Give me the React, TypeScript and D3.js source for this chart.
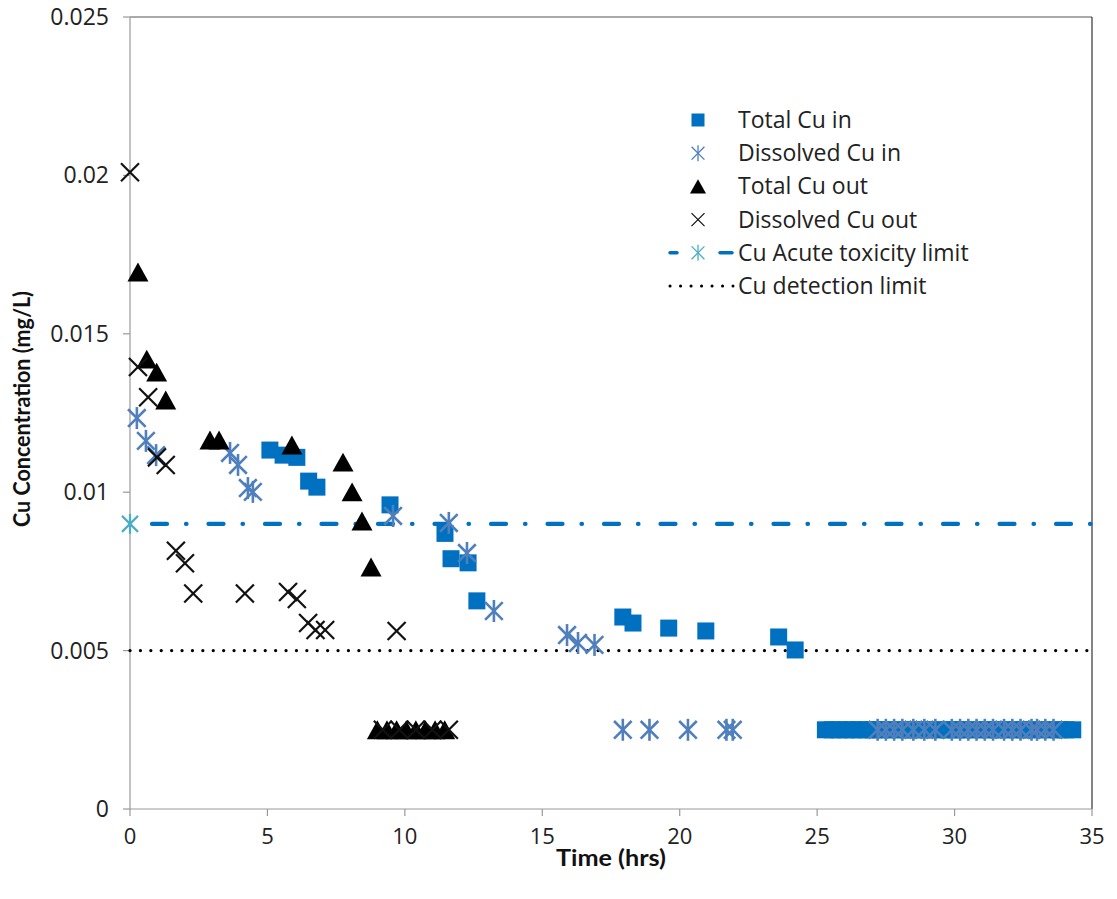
import React from "react";
import * as d3 from "d3";

// Time (hrs) and Cu concentration (mg/L) readings for each series
const totalInTime = [5.09, 5.57, 6.07, 6.5, 6.8, 9.46, 11.46, 11.68, 12.3, 12.62, 17.93, 18.3, 19.6, 20.95, 23.6, 24.2,
  25.3, 25.55, 25.8, 26.05, 26.3, 26.55, 26.8, 27.05, 27.3, 27.55, 27.8, 28.05, 28.3, 28.55, 28.8, 29.05, 29.3, 29.55,
  29.8, 30.05, 30.3, 30.55, 30.8, 31.05, 31.3, 31.55, 31.8, 32.05, 32.3, 32.55, 32.8, 33.05, 33.3, 33.55, 33.8, 34.05, 34.3];
const totalInConc = [0.01133, 0.01117, 0.0111, 0.01035, 0.01016, 0.0096, 0.0087, 0.0079, 0.00777, 0.00657, 0.00606, 0.00587, 0.00571, 0.00562, 0.00543, 0.00502,
  0.0025, 0.0025, 0.0025, 0.0025, 0.0025, 0.0025, 0.0025, 0.0025, 0.0025, 0.0025, 0.0025, 0.0025, 0.0025, 0.0025, 0.0025, 0.0025, 0.0025, 0.0025,
  0.0025, 0.0025, 0.0025, 0.0025, 0.0025, 0.0025, 0.0025, 0.0025, 0.0025, 0.0025, 0.0025, 0.0025, 0.0025, 0.0025, 0.0025, 0.0025, 0.0025, 0.0025, 0.0025];

const dissolvedInTime = [0.25, 0.58, 0.95, 3.64, 3.93, 4.29, 4.47, 9.57, 11.6, 12.26, 13.24, 15.9, 16.3, 16.9,
  17.93, 18.9, 20.3, 21.7, 21.93,
  27.2, 27.5, 27.8, 28.1, 28.5, 28.9, 29.3, 29.9, 30.2, 30.5, 30.8, 31.1, 31.4, 31.8, 32.1, 32.4, 32.8, 33.0, 33.3, 33.6];
const dissolvedInConc = [0.01234, 0.01162, 0.01117, 0.01124, 0.01086, 0.01013, 0.01001, 0.00925, 0.00903, 0.00808, 0.00625, 0.00549, 0.00524, 0.00518,
  0.0025, 0.0025, 0.0025, 0.0025, 0.0025,
  0.0025, 0.0025, 0.0025, 0.0025, 0.0025, 0.0025, 0.0025, 0.0025, 0.0025, 0.0025, 0.0025, 0.0025, 0.0025, 0.0025, 0.0025, 0.0025, 0.0025, 0.0025, 0.0025, 0.0025];

const totalOutTime = [0.29, 0.61, 0.97, 1.3, 2.91, 3.24, 5.89, 7.75, 8.08, 8.44, 8.77,
  9.0, 9.35, 9.7, 10.05, 10.4, 10.75, 11.1, 11.45];
const totalOutConc = [0.01695, 0.0142, 0.01379, 0.01291, 0.01165, 0.01165, 0.01149, 0.01095, 0.01001, 0.00909, 0.00764,
  0.0025, 0.0025, 0.0025, 0.0025, 0.0025, 0.0025, 0.0025, 0.0025];

const dissolvedOutTime = [0, 0.29, 0.66, 0.98, 1.3, 1.67, 2.0, 2.3, 4.18, 5.75, 6.07, 6.48, 6.75, 7.1, 9.7,
  9.2, 9.8, 10.4, 11.0, 11.6];
const dissolvedOutConc = [0.0201, 0.01395, 0.013, 0.0111, 0.01086, 0.00815, 0.00776, 0.0068, 0.0068, 0.00685, 0.00663, 0.00587, 0.00565, 0.00565, 0.00562,
  0.0025, 0.0025, 0.0025, 0.0025, 0.0025];

const toxicityTime = [0, 35];
const toxicityConc = [0.009, 0.009];
const detectionTime = [0, 35];
const detectionConc = [0.005, 0.005];

const xTicks = [0, 5, 10, 15, 20, 25, 30, 35];
const yTicks = [0, 0.005, 0.01, 0.015, 0.02, 0.025];
const yTickLabels = ["0", "0.005", "0.01", "0.015", "0.02", "0.025"];

const legendLabels = [
  "Total Cu in",
  "Dissolved Cu in",
  "Total Cu out",
  "Dissolved Cu out",
  "Cu Acute toxicity limit",
  "Cu detection limit",
];

const C_TOTAL_IN = "#0070c0";
const C_DISS_IN = "#4f7fbc";
const C_TOX = "#0070c0";
const C_TOX_MARK = "#4bacc6";
const FONT = "'Open Sans', Lato, sans-serif";
const TITLE_FONT = "Lato, 'Open Sans', sans-serif";

const W = 1117;
const H = 899;
const left = 130;
const right = 1092;
const top = 17;
const bottom = 809;

const zip = (xs: number[], ys: number[]) => xs.map((x, i) => ({ x, y: ys[i] }));

function Square({ cx, cy, s, fill }: { cx: number; cy: number; s: number; fill: string }) {
  return <rect x={cx - s / 2} y={cy - s / 2} width={s} height={s} fill={fill} />;
}

function Asterisk({ cx, cy, r, stroke, w }: { cx: number; cy: number; r: number; stroke: string; w: number }) {
  const d = r * 0.8;
  return (
    <g stroke={stroke} strokeWidth={w} strokeLinecap="butt">
      <line x1={cx} y1={cy - r} x2={cx} y2={cy + r} />
      <line x1={cx - d} y1={cy - d} x2={cx + d} y2={cy + d} />
      <line x1={cx - d} y1={cy + d} x2={cx + d} y2={cy - d} />
    </g>
  );
}

function Triangle({ cx, cy, s }: { cx: number; cy: number; s: number }) {
  const h = s * 0.9;
  return <path d={`M${cx},${cy - h / 2}L${cx + s / 2},${cy + h / 2}L${cx - s / 2},${cy + h / 2}Z`} fill="#000" />;
}

function Cross({ cx, cy, r, w }: { cx: number; cy: number; r: number; w: number }) {
  return (
    <g stroke="#111" strokeWidth={w}>
      <line x1={cx - r} y1={cy - r} x2={cx + r} y2={cy + r} />
      <line x1={cx - r} y1={cy + r} x2={cx + r} y2={cy - r} />
    </g>
  );
}

export default function App() {
  const x = d3.scaleLinear().domain([0, 35]).range([left, right]);
  const y = d3.scaleLinear().domain([0, 0.025]).range([bottom, top]);
  const line = d3
    .line<{ x: number; y: number }>()
    .x((d) => x(d.x))
    .y((d) => y(d.y));

  const totalIn = zip(totalInTime, totalInConc);
  const dissIn = zip(dissolvedInTime, dissolvedInConc);
  const totalOut = zip(totalOutTime, totalOutConc);
  const dissOut = zip(dissolvedOutTime, dissolvedOutConc);
  const tox = zip(toxicityTime, toxicityConc);
  const det = zip(detectionTime, detectionConc);

  const lgX = 698;
  const lgY0 = 120;
  const lgStep = 33.2;

  return (
    <svg width={W} height={H} style={{ position: "absolute", left: 0, top: 0, background: "#fff" }}>
      {/* plot frame */}
      <line x1={left} y1={top} x2={right} y2={top} stroke="#555" strokeWidth={1} />
      <line x1={right} y1={top} x2={right} y2={bottom} stroke="#333" strokeWidth={1.2} />
      {/* axes */}
      <line x1={left} y1={top} x2={left} y2={bottom} stroke="#999" strokeWidth={1.2} />
      <line x1={left} y1={bottom} x2={right} y2={bottom} stroke="#999" strokeWidth={1.2} />
      {yTicks.map((t) => (
        <line key={"yt" + t} x1={left - 7} x2={left} y1={y(t)} y2={y(t)} stroke="#999" strokeWidth={1.2} />
      ))}
      {xTicks.map((t) => (
        <line key={"xt" + t} x1={x(t)} x2={x(t)} y1={bottom} y2={bottom + 7} stroke="#999" strokeWidth={1.2} />
      ))}
      {yTicks.map((t, i) => (
        <text
          key={"yl" + t}
          x={109}
          y={y(t)}
          dy="0.35em"
          textAnchor="end"
          fontFamily={FONT}
          fontSize={23}
          fill="#222"
        >
          {yTickLabels[i]}
        </text>
      ))}
      {xTicks.map((t) => (
        <text
          key={"xl" + t}
          x={x(t)}
          y={836}
          dy="0.35em"
          textAnchor="middle"
          fontFamily={FONT}
          fontSize={22}
          fill="#222"
        >
          {t}
        </text>
      ))}
      <text
        x={611}
        y={858}
        dy="0.35em"
        textAnchor="middle"
        fontFamily={TITLE_FONT}
        fontWeight="bold"
        fontSize={23}
        textLength={110}
        lengthAdjust="spacingAndGlyphs"
        fill="#111"
      >
        Time (hrs)
      </text>
      <text
        transform={`translate(22,409) rotate(-90)`}
        dy="0.35em"
        textAnchor="middle"
        fontFamily={TITLE_FONT}
        fontWeight="bold"
        fontSize={22}
        textLength={236}
        lengthAdjust="spacingAndGlyphs"
        fill="#111"
      >
        Cu Concentration (mg/L)
      </text>

      {/* reference lines */}
      <path d={line(det) || ""} stroke="#000" strokeWidth={3.2} strokeDasharray="0.1 10.3" strokeLinecap="round" fill="none" />
      <path
        d={line(tox) || ""}
        stroke={C_TOX}
        strokeWidth={4.2}
        strokeDasharray="15 19 0.5 22"
        strokeDashoffset={-22}
        strokeLinecap="round"
        fill="none"
      />
      <Asterisk cx={x(tox[0].x)} cy={y(tox[0].y)} r={10} stroke={C_TOX_MARK} w={2.2} />

      {/* series markers */}
      {totalIn.map((d, i) => (
        <Square key={"ti" + i} cx={x(d.x)} cy={y(d.y)} s={17} fill={C_TOTAL_IN} />
      ))}
      {dissIn.map((d, i) => (
        <Asterisk key={"di" + i} cx={x(d.x)} cy={y(d.y)} r={11} stroke={C_DISS_IN} w={2.6} />
      ))}
      {totalOut.map((d, i) => (
        <Triangle key={"to" + i} cx={x(d.x)} cy={y(d.y)} s={21} />
      ))}
      {dissOut.map((d, i) => (
        <Cross key={"do" + i} cx={x(d.x)} cy={y(d.y)} r={9} w={2.2} />
      ))}

      {/* legend */}
      <g>
        <Square cx={lgX} cy={lgY0} s={13} fill={C_TOTAL_IN} />
        <Asterisk cx={lgX} cy={lgY0 + lgStep} r={8} stroke={C_DISS_IN} w={1.3} />
        <Triangle cx={lgX} cy={lgY0 + 2 * lgStep} s={16} />
        <Cross cx={lgX} cy={lgY0 + 3 * lgStep} r={6.5} w={1.3} />
        <line x1={670} x2={677} y1={lgY0 + 4 * lgStep} y2={lgY0 + 4 * lgStep} stroke={C_TOX} strokeWidth={3.5} strokeLinecap="round" />
        <line x1={720} x2={732} y1={lgY0 + 4 * lgStep} y2={lgY0 + 4 * lgStep} stroke={C_TOX} strokeWidth={3.5} strokeLinecap="round" />
        <Asterisk cx={lgX} cy={lgY0 + 4 * lgStep} r={8} stroke={C_TOX_MARK} w={1.3} />
        <line x1={670} x2={733} y1={lgY0 + 5 * lgStep} y2={lgY0 + 5 * lgStep} stroke="#000" strokeWidth={3} strokeDasharray="0.1 10.4" strokeLinecap="round" />
        {legendLabels.map((t, i) => (
          <text
            key={t}
            x={738}
            y={lgY0 + i * lgStep}
            dy="0.35em"
            fontFamily={FONT}
            fontSize={23}
            fill="#222"
          >
            {t}
          </text>
        ))}
      </g>
    </svg>
  );
}
